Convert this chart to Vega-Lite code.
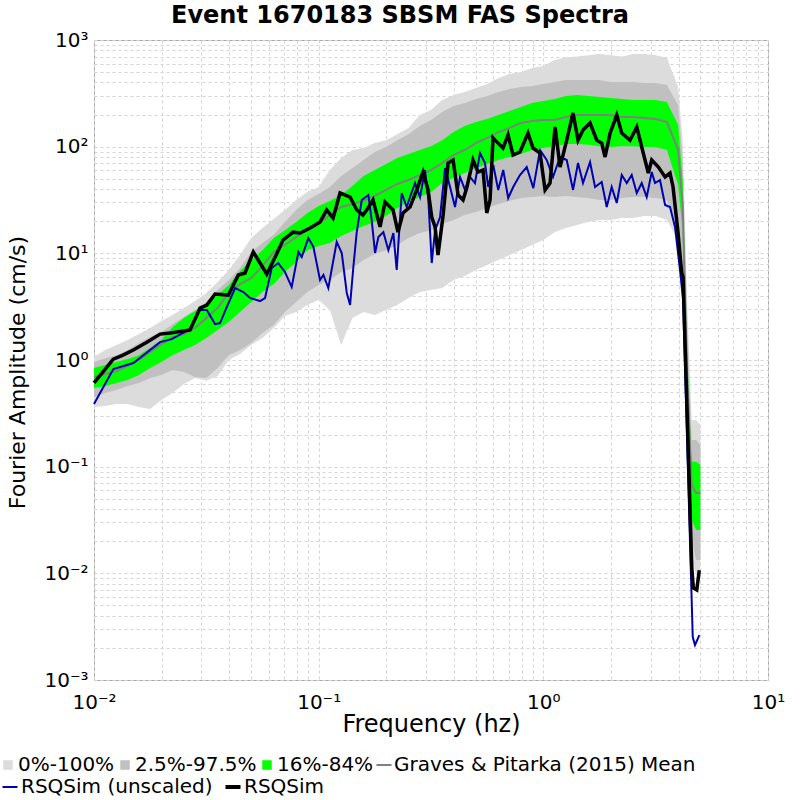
{
  "$schema": "https://vega.github.io/schema/vega-lite/v6.json",
  "width": 674,
  "height": 640,
  "autosize": "none",
  "padding": {"left": 94, "top": 40, "right": 32, "bottom": 120},
  "config": {
    "font": "DejaVu Sans",
    "view": {"stroke": "#a8a8a8", "strokeWidth": 1}
  },
  "title": {
    "text": "Event 1670183 SBSM FAS Spectra",
    "fontSize": 24,
    "fontWeight": "bold",
    "font": "DejaVu Sans",
    "color": "black",
    "anchor": "middle",
    "frame": "group",
    "baseline": "alphabetic",
    "offset": 4,
    "dx": -31,
    "dy": 21
  },
  "datasets": {
    "bands": [
      {"f":0.01,"hi0":1.07,"lo0":0.363,"hi2":0.958,"lo2":0.45,"hi16":0.841,"lo16":0.547,"mean":0.693},
      {"f":0.01122,"hi0":1.24,"lo0":0.371,"hi2":1.04,"lo2":0.491,"hi16":0.898,"lo16":0.571,"mean":0.739},
      {"f":0.01259,"hi0":1.38,"lo0":0.387,"hi2":1.11,"lo2":0.523,"hi16":0.958,"lo16":0.609,"mean":0.789},
      {"f":0.01413,"hi0":1.54,"lo0":0.387,"hi2":1.24,"lo2":0.571,"hi16":1.02,"lo16":0.65,"mean":0.879},
      {"f":0.01585,"hi0":1.75,"lo0":0.363,"hi2":1.44,"lo2":0.609,"hi16":1.11,"lo16":0.723,"mean":1.0},
      {"f":0.01778,"hi0":2.0,"lo0":0.347,"hi2":1.64,"lo2":0.678,"hi16":1.3,"lo16":0.841,"mean":1.19},
      {"f":0.01995,"hi0":2.32,"lo0":0.422,"hi2":1.83,"lo2":0.723,"hi16":1.54,"lo16":0.958,"mean":1.41},
      {"f":0.02239,"hi0":2.64,"lo0":0.491,"hi2":2.17,"lo2":0.806,"hi16":2.04,"lo16":1.11,"mean":1.64},
      {"f":0.02512,"hi0":3.07,"lo0":0.596,"hi2":2.53,"lo2":0.772,"hi16":2.48,"lo16":1.24,"mean":1.75},
      {"f":0.02818,"hi0":3.57,"lo0":0.678,"hi2":2.94,"lo2":0.693,"hi16":2.88,"lo16":1.38,"mean":2.0},
      {"f":0.03162,"hi0":4.25,"lo0":0.64,"hi2":3.5,"lo2":0.678,"hi16":3.28,"lo16":1.61,"mean":2.48},
      {"f":0.03548,"hi0":5.38,"lo0":0.708,"hi2":4.53,"lo2":0.841,"hi16":4.06,"lo16":1.91,"mean":3.07},
      {"f":0.03981,"hi0":6.98,"lo0":1.0,"hi2":5.62,"lo2":1.11,"hi16":5.05,"lo16":2.27,"mean":4.3},
      {"f":0.04467,"hi0":9.65,"lo0":1.14,"hi2":7.28,"lo2":1.24,"hi16":6.83,"lo16":2.82,"mean":5.15},
      {"f":0.05012,"hi0":13.9,"lo0":1.38,"hi2":10.3,"lo2":1.44,"hi16":8.66,"lo16":3.5,"mean":5.87},
      {"f":0.05623,"hi0":17.3,"lo0":1.61,"hi2":12.5,"lo2":1.79,"hi16":10.7,"lo16":4.34,"mean":7.61},
      {"f":0.0631,"hi0":21.0,"lo0":2.0,"hi2":14.9,"lo2":2.13,"hi16":13.9,"lo16":5.15,"mean":10.3},
      {"f":0.07079,"hi0":25.5,"lo0":2.58,"hi2":19.7,"lo2":2.82,"hi16":16.5,"lo16":6.68,"mean":12.0},
      {"f":0.07943,"hi0":31.6,"lo0":2.82,"hi2":25.5,"lo2":3.5,"hi16":19.7,"lo16":8.29,"mean":14.2},
      {"f":0.08913,"hi0":37.6,"lo0":3.28,"hi2":31.6,"lo2":4.34,"hi16":23.9,"lo16":10.7,"mean":16.5},
      {"f":0.1,"hi0":41.9,"lo0":3.65,"hi2":36.0,"lo2":5.05,"hi16":27.8,"lo16":11.7,"mean":18.8},
      {"f":0.1122,"hi0":60.4,"lo0":2.94,"hi2":41.9,"lo2":5.62,"hi16":31.0,"lo16":12.5,"mean":22.9},
      {"f":0.1259,"hi0":78.3,"lo0":1.38,"hi2":53.1,"lo2":6.68,"hi16":35.2,"lo16":14.5,"mean":27.2},
      {"f":0.1413,"hi0":93.1,"lo0":2.48,"hi2":63.1,"lo2":7.28,"hi16":42.8,"lo16":16.2,"mean":29.0},
      {"f":0.1585,"hi0":97.1,"lo0":2.82,"hi2":75.0,"lo2":8.66,"hi16":53.1,"lo16":18.0,"mean":31.0},
      {"f":0.1778,"hi0":108,"lo0":2.64,"hi2":89.1,"lo2":9.86,"hi16":60.4,"lo16":19.7,"mean":34.5},
      {"f":0.1995,"hi0":115,"lo0":2.94,"hi2":99.3,"lo2":10.7,"hi16":68.8,"lo16":22.4,"mean":39.3},
      {"f":0.2239,"hi0":131,"lo0":3.28,"hi2":115,"lo2":12.0,"hi16":78.3,"lo16":26.6,"mean":44.7},
      {"f":0.2512,"hi0":150,"lo0":3.81,"hi2":131,"lo2":13.9,"hi16":85.3,"lo16":30.3,"mean":48.7},
      {"f":0.2818,"hi0":198,"lo0":4.34,"hi2":156,"lo2":15.5,"hi16":93.1,"lo16":33.7,"mean":54.2},
      {"f":0.3162,"hi0":221,"lo0":4.53,"hi2":178,"lo2":16.5,"hi16":101,"lo16":37.6,"mean":60.4},
      {"f":0.3548,"hi0":274,"lo0":4.73,"hi2":211,"lo2":18.8,"hi16":115,"lo16":45.6,"mean":70.3},
      {"f":0.3981,"hi0":305,"lo0":5.62,"hi2":240,"lo2":20.5,"hi16":137,"lo16":50.8,"mean":83.5},
      {"f":0.4467,"hi0":325,"lo0":6.13,"hi2":257,"lo2":22.9,"hi16":156,"lo16":56.6,"mean":93.1},
      {"f":0.5012,"hi0":355,"lo0":6.98,"hi2":280,"lo2":24.4,"hi16":170,"lo16":63.1,"mean":108},
      {"f":0.5623,"hi0":387,"lo0":7.78,"hi2":299,"lo2":26.6,"hi16":182,"lo16":68.8,"mean":121},
      {"f":0.631,"hi0":440,"lo0":8.66,"hi2":325,"lo2":29.0,"hi16":198,"lo16":75.0,"mean":137},
      {"f":0.7079,"hi0":480,"lo0":9.65,"hi2":347,"lo2":31.0,"hi16":216,"lo16":80.0,"mean":150},
      {"f":0.7943,"hi0":501,"lo0":10.7,"hi2":362,"lo2":33.0,"hi16":236,"lo16":85.3,"mean":167},
      {"f":0.8913,"hi0":546,"lo0":12.0,"hi2":371,"lo2":33.7,"hi16":257,"lo16":93.1,"mean":174},
      {"f":1.0,"hi0":570,"lo0":13.3,"hi2":387,"lo2":34.5,"hi16":268,"lo16":97.1,"mean":178},
      {"f":1.122,"hi0":649,"lo0":15.8,"hi2":404,"lo2":33.7,"hi16":280,"lo16":101,"mean":178},
      {"f":1.259,"hi0":690,"lo0":17.3,"hi2":422,"lo2":34.5,"hi16":299,"lo16":106,"mean":190},
      {"f":1.413,"hi0":700,"lo0":18.4,"hi2":422,"lo2":33.7,"hi16":305,"lo16":106,"mean":198},
      {"f":1.585,"hi0":720,"lo0":19.7,"hi2":422,"lo2":33.0,"hi16":299,"lo16":104,"mean":198},
      {"f":1.778,"hi0":740,"lo0":20.5,"hi2":422,"lo2":31.6,"hi16":292,"lo16":101,"mean":198},
      {"f":1.995,"hi0":720,"lo0":20.5,"hi2":404,"lo2":31.6,"hi16":286,"lo16":99.3,"mean":198},
      {"f":2.239,"hi0":700,"lo0":21.4,"hi2":404,"lo2":33.0,"hi16":280,"lo16":101,"mean":190},
      {"f":2.512,"hi0":740,"lo0":21.4,"hi2":404,"lo2":33.7,"hi16":274,"lo16":101,"mean":190},
      {"f":2.818,"hi0":740,"lo0":22.4,"hi2":395,"lo2":33.7,"hi16":274,"lo16":99.3,"mean":186},
      {"f":3.162,"hi0":720,"lo0":22.4,"hi2":395,"lo2":33.0,"hi16":274,"lo16":99.3,"mean":182},
      {"f":3.548,"hi0":680,"lo0":20.5,"hi2":379,"lo2":31.6,"hi16":262,"lo16":93.1,"mean":170},
      {"f":3.981,"hi0":362,"lo0":13.3,"hi2":246,"lo2":18.4,"hi16":160,"lo16":43.7,"mean":93.1},
      {"f":4.169,"hi0":115,"lo0":3.65,"hi2":75.0,"lo2":8.66,"hi16":48.7,"lo16":16.5,"mean":28.4},
      {"f":4.365,"hi0":3.65,"lo0":0.143,"hi2":2.37,"lo2":0.274,"hi16":1.24,"lo16":0.422,"mean":0.723},
      {"f":4.571,"hi0":0.274,"lo0":0.0133,"hi2":0.178,"lo2":0.0205,"hi16":0.111,"lo16":0.0316,"mean":0.0673},
      {"f":4.786,"hi0":0.274,"lo0":0.00964,"hi2":0.178,"lo2":0.0133,"hi16":0.111,"lo16":0.0255,"mean":0.0566},
      {"f":5.0,"hi0":0.246,"lo0":0.00964,"hi2":0.16,"lo2":0.0133,"hi16":0.104,"lo16":0.0255,"mean":0.0566}
    ],
    "blue": [
      {"f":0.01,"v":0.387},{"f":0.01219,"v":0.824},{"f":0.01496,"v":0.937},{"f":0.01968,"v":1.47},
      {"f":0.02218,"v":1.57},{"f":0.02675,"v":1.95},{"f":0.02965,"v":2.94},{"f":0.03177,"v":2.94},
      {"f":0.03459,"v":2.17},{"f":0.03639,"v":2.22},{"f":0.03899,"v":3.14},{"f":0.04249,"v":4.73},
      {"f":0.04624,"v":4.34},{"f":0.04954,"v":3.81},{"f":0.05483,"v":3.57},{"f":0.05771,"v":3.81},
      {"f":0.0618,"v":7.28},{"f":0.0661,"v":8.11},{"f":0.0708,"v":6.68},{"f":0.07586,"v":4.83},
      {"f":0.08124,"v":10.3},{"f":0.08408,"v":9.24},{"f":0.08997,"v":13.9},{"f":0.09473,"v":11.5},
      {"f":0.1014,"v":5.62},{"f":0.105,"v":6.27},{"f":0.1104,"v":4.73},{"f":0.1203,"v":12.8},
      {"f":0.1267,"v":10.07},{"f":0.1334,"v":4.25},{"f":0.138,"v":3.28},{"f":0.1427,"v":7.45},
      {"f":0.1477,"v":15.8},{"f":0.1555,"v":31.6},{"f":0.1664,"v":35.2},{"f":0.1722,"v":20.5},
      {"f":0.1782,"v":10.07},{"f":0.1844,"v":14.2},{"f":0.1941,"v":15.8},{"f":0.2043,"v":10.7},
      {"f":0.215,"v":15.5},{"f":0.2225,"v":6.98},{"f":0.2342,"v":36.8},{"f":0.2465,"v":27.2},
      {"f":0.2551,"v":33.7},{"f":0.2685,"v":45.6},{"f":0.2826,"v":33.7},{"f":0.2974,"v":60.4},
      {"f":0.3078,"v":31.6},{"f":0.3186,"v":8.11},{"f":0.3297,"v":16.5},{"f":0.347,"v":21.9},
      {"f":0.3652,"v":63.1},{"f":0.3844,"v":41.9},{"f":0.4045,"v":27.2},{"f":0.4258,"v":52.0},
      {"f":0.4481,"v":39.3},{"f":0.4716,"v":52.0},{"f":0.4964,"v":45.6},{"f":0.5224,"v":87.3},
      {"f":0.5498,"v":70.3},{"f":0.5687,"v":41.9},{"f":0.5985,"v":67.3},{"f":0.6299,"v":39.3},
      {"f":0.663,"v":60.4},{"f":0.6977,"v":33.0},{"f":0.7343,"v":41.9},{"f":0.787,"v":54.2},
      {"f":0.8435,"v":64.4},{"f":0.9027,"v":40.9},{"f":0.9666,"v":93.0},{"f":1.035,"v":75.0},
      {"f":1.104,"v":52.0},{"f":1.187,"v":80.0},{"f":1.271,"v":75.0},{"f":1.356,"v":39.3},
      {"f":1.427,"v":70.3},{"f":1.502,"v":45.6},{"f":1.614,"v":71.8},{"f":1.699,"v":41.9},
      {"f":1.819,"v":46.6},{"f":1.915,"v":27.2},{"f":2.015,"v":41.9},{"f":2.122,"v":29.6},
      {"f":2.234,"v":54.2},{"f":2.351,"v":45.6},{"f":2.474,"v":54.2},{"f":2.605,"v":36.8},
      {"f":2.741,"v":45.6},{"f":2.885,"v":33.7},{"f":3.037,"v":57.8},{"f":3.141,"v":45.6},
      {"f":3.306,"v":48.7},{"f":3.483,"v":28.4},{"f":3.664,"v":27.2},{"f":3.856,"v":17.7},
      {"f":4.058,"v":6.98},{"f":4.188,"v":3.65},{"f":4.624,"v":0.00253},{"f":4.732,"v":0.00213},
      {"f":4.842,"v":0.00237},{"f":4.945,"v":0.00264}
    ],
    "black": [
      {"f":0.01,"v":0.609},{"f":0.01219,"v":1.02},{"f":0.01346,"v":1.11},{"f":0.01496,"v":1.24},
      {"f":0.01718,"v":1.47},{"f":0.01968,"v":1.75},{"f":0.0218,"v":1.79},{"f":0.02675,"v":1.91},
      {"f":0.02965,"v":3.07},{"f":0.03177,"v":3.28},{"f":0.03459,"v":4.16},{"f":0.03963,"v":4.06},
      {"f":0.04389,"v":6.27},{"f":0.04701,"v":6.54},{"f":0.05117,"v":10.3},{"f":0.05875,"v":6.4},
      {"f":0.06531,"v":10.07},{"f":0.06934,"v":13.3},{"f":0.07691,"v":15.8},{"f":0.08262,"v":15.5},
      {"f":0.09162,"v":17.3},{"f":0.1014,"v":19.7},{"f":0.1086,"v":25.5},{"f":0.1159,"v":21.4},
      {"f":0.1245,"v":36.8},{"f":0.138,"v":33.7},{"f":0.1477,"v":25.5},{"f":0.1575,"v":22.9},
      {"f":0.1636,"v":25.5},{"f":0.1746,"v":31.6},{"f":0.1876,"v":17.7},{"f":0.1974,"v":30.3},
      {"f":0.2143,"v":25.5},{"f":0.2254,"v":15.8},{"f":0.2374,"v":23.9},{"f":0.2551,"v":27.2},
      {"f":0.2731,"v":39.3},{"f":0.2915,"v":57.8},{"f":0.3069,"v":39.3},{"f":0.3186,"v":21.9},
      {"f":0.3297,"v":17.7},{"f":0.3398,"v":9.65},{"f":0.3581,"v":22.9},{"f":0.3767,"v":70.3},
      {"f":0.3966,"v":75.0},{"f":0.4173,"v":35.2},{"f":0.4392,"v":31.6},{"f":0.456,"v":40.9},
      {"f":0.4864,"v":75.0},{"f":0.5119,"v":57.8},{"f":0.5391,"v":60.4},{"f":0.5599,"v":23.9},
      {"f":0.5793,"v":31.6},{"f":0.5971,"v":121},{"f":0.6285,"v":108},{"f":0.6615,"v":97.1},
      {"f":0.6965,"v":129},{"f":0.733,"v":83.5},{"f":0.787,"v":89.1},{"f":0.8549,"v":134},
      {"f":0.8995,"v":97.1},{"f":0.9666,"v":87.3},{"f":1.018,"v":39.3},{"f":1.071,"v":45.6},
      {"f":1.128,"v":153},{"f":1.187,"v":64.4},{"f":1.271,"v":115},{"f":1.356,"v":207},
      {"f":1.427,"v":115},{"f":1.502,"v":143},{"f":1.614,"v":167},{"f":1.729,"v":115},
      {"f":1.819,"v":108},{"f":1.883,"v":80.0},{"f":1.982,"v":134},{"f":2.122,"v":198},
      {"f":2.234,"v":134},{"f":2.431,"v":115},{"f":2.605,"v":153},{"f":2.741,"v":99.3},
      {"f":2.933,"v":56.6},{"f":3.037,"v":75.0},{"f":3.251,"v":64.4},{"f":3.483,"v":52.0},
      {"f":3.664,"v":56.6},{"f":3.779,"v":41.9},{"f":3.978,"v":15.5},{"f":4.131,"v":6.54},
      {"f":4.188,"v":6.0},{"f":4.577,"v":0.0115},{"f":4.652,"v":0.0073},{"f":4.818,"v":0.007},
      {"f":4.945,"v":0.0107}
    ]
  },
  "encoding": {
    "x": {
      "field": "f",
      "type": "quantitative",
      "scale": {"type": "log", "domain": [0.01, 10]},
      "axis": {
        "title": "Frequency (hz)",
        "values": [0.01,0.02,0.03,0.04,0.05,0.06,0.07,0.08,0.09,0.1,0.2,0.3,0.4,0.5,0.6,0.7,0.8,0.9,1,2,3,4,5,6,7,8,9,10],
        "labelExpr": "abs(log(datum.value)/LN10 - round(log(datum.value)/LN10)) < 0.001 ? '10' + replace(replace(replace(replace(replace('' + round(log(datum.value)/LN10), '-', '⁻'), '0', '⁰'), '1', '¹'), '2', '²'), '3', '³') : ''",
        "grid": true,
        "gridDash": [3, 3],
        "gridColor": "#d4d4d4",
        "ticks": false,
        "tickSize": 0,
        "domain": false,
        "labelFontSize": 20,
        "labelColor": "black",
        "labelPadding": 12,
        "labelOverlap": false,
        "labelFlush": false,
        "titleFontSize": 24,
        "titleFontWeight": "normal",
        "titleColor": "black",
        "titleY": 51,
        "titleBaseline": "alphabetic"
      }
    }
  },
  "layer": [
    {
      "data": {"name": "bands"},
      "mark": {"type": "area"},
      "encoding": {
        "y": {
          "field": "lo0",
          "type": "quantitative",
          "scale": {"type": "log", "domain": [0.001, 1000]},
          "axis": {
            "title": "Fourier Amplitude (cm/s)",
            "values": [0.001,0.002,0.003,0.004,0.005,0.006,0.007,0.008,0.009,0.01,0.02,0.03,0.04,0.05,0.06,0.07,0.08,0.09,0.1,0.2,0.3,0.4,0.5,0.6,0.7,0.8,0.9,1,2,3,4,5,6,7,8,9,10,20,30,40,50,60,70,80,90,100,200,300,400,500,600,700,800,900,1000],
            "labelExpr": "abs(log(datum.value)/LN10 - round(log(datum.value)/LN10)) < 0.001 ? '10' + replace(replace(replace(replace(replace('' + round(log(datum.value)/LN10), '-', '⁻'), '0', '⁰'), '1', '¹'), '2', '²'), '3', '³') : ''",
            "grid": true,
            "gridDash": [3, 3],
            "gridColor": "#d4d4d4",
            "ticks": false,
            "tickSize": 0,
            "domain": false,
            "labelFontSize": 20,
            "labelColor": "black",
            "labelPadding": 6,
            "labelOverlap": false,
            "labelFlush": false,
            "titleFontSize": 22,
            "titleFontWeight": "normal",
            "titleColor": "black",
            "titleAngle": -90,
            "titleX": -70,
            "titleY": 332,
            "titleAlign": "center",
            "titleBaseline": "alphabetic"
          }
        },
        "y2": {"field": "hi0"},
        "color": {
          "datum": "0%-100%",
          "type": "nominal",
          "scale": {
            "domain": ["0%-100%", "2.5%-97.5%", "16%-84%", "Graves & Pitarka (2015) Mean"],
            "range": ["#dcdcdc", "#c0c0c0", "#00ff00", "#808080"]
          },
          "legend": {
            "title": null,
            "orient": "none",
            "legendX": -96,
            "legendY": 715,
            "direction": "horizontal",
            "labelFontSize": 20,
            "labelFont": "DejaVu Sans",
            "labelColor": "black",
            "labelLimit": 600,
            "labelOffset": 0,
            "symbolSize": 225,
            "columnPadding": -3,
            "encode": {
              "symbols": {
                "update": {
                  "shape": {"signal": "datum.value == 'Graves & Pitarka (2015) Mean' ? 'stroke' : 'square'"},
                  "size": {"signal": "datum.value == 'Graves & Pitarka (2015) Mean' ? 225 : 56"},
                  "fill": {"signal": "datum.value == 'Graves & Pitarka (2015) Mean' ? 'transparent' : scale('color', datum.value)"},
                  "stroke": {"signal": "datum.value == 'Graves & Pitarka (2015) Mean' ? scale('color', datum.value) : 'transparent'"},
                  "strokeWidth": {"value": 2},
                  "opacity": {"value": 1}
                }
              }
            }
          }
        }
      }
    },
    {
      "data": {"name": "bands"},
      "mark": {"type": "area"},
      "encoding": {
        "y": {"field": "lo2", "type": "quantitative", "scale": {"type": "log", "domain": [0.001, 1000]}},
        "y2": {"field": "hi2"},
        "color": {"datum": "2.5%-97.5%", "type": "nominal"}
      }
    },
    {
      "data": {"name": "bands"},
      "mark": {"type": "area"},
      "encoding": {
        "y": {"field": "lo16", "type": "quantitative", "scale": {"type": "log", "domain": [0.001, 1000]}},
        "y2": {"field": "hi16"},
        "color": {"datum": "16%-84%", "type": "nominal"}
      }
    },
    {
      "data": {"name": "bands"},
      "mark": {"type": "line", "strokeWidth": 2},
      "encoding": {
        "y": {"field": "mean", "type": "quantitative", "scale": {"type": "log", "domain": [0.001, 1000]}},
        "color": {"datum": "Graves & Pitarka (2015) Mean", "type": "nominal"}
      }
    },
    {
      "data": {"name": "blue"},
      "mark": {"type": "line", "strokeWidth": 2},
      "encoding": {
        "y": {"field": "v", "type": "quantitative", "scale": {"type": "log", "domain": [0.001, 1000]}},
        "stroke": {
          "datum": "RSQSim (unscaled)",
          "type": "nominal",
          "scale": {"domain": ["RSQSim (unscaled)", "RSQSim"], "range": ["#0000b0", "#000000"]},
          "legend": {
            "title": null,
            "orient": "none",
            "legendX": -94,
            "legendY": 737,
            "direction": "horizontal",
            "labelFontSize": 20,
            "labelFont": "DejaVu Sans",
            "labelColor": "black",
            "labelLimit": 600,
            "labelOffset": 1,
            "symbolSize": 225,
            "symbolType": "stroke",
            "columnPadding": 4,
            "encode": {
              "symbols": {
                "update": {
                  "strokeWidth": {"signal": "datum.value == 'RSQSim' ? 4 : 2"},
                  "opacity": {"value": 1}
                }
              }
            }
          }
        }
      }
    },
    {
      "data": {"name": "black"},
      "mark": {"type": "line", "strokeWidth": 3.5},
      "encoding": {
        "y": {"field": "v", "type": "quantitative", "scale": {"type": "log", "domain": [0.001, 1000]}},
        "stroke": {"datum": "RSQSim", "type": "nominal"}
      }
    }
  ]
}
